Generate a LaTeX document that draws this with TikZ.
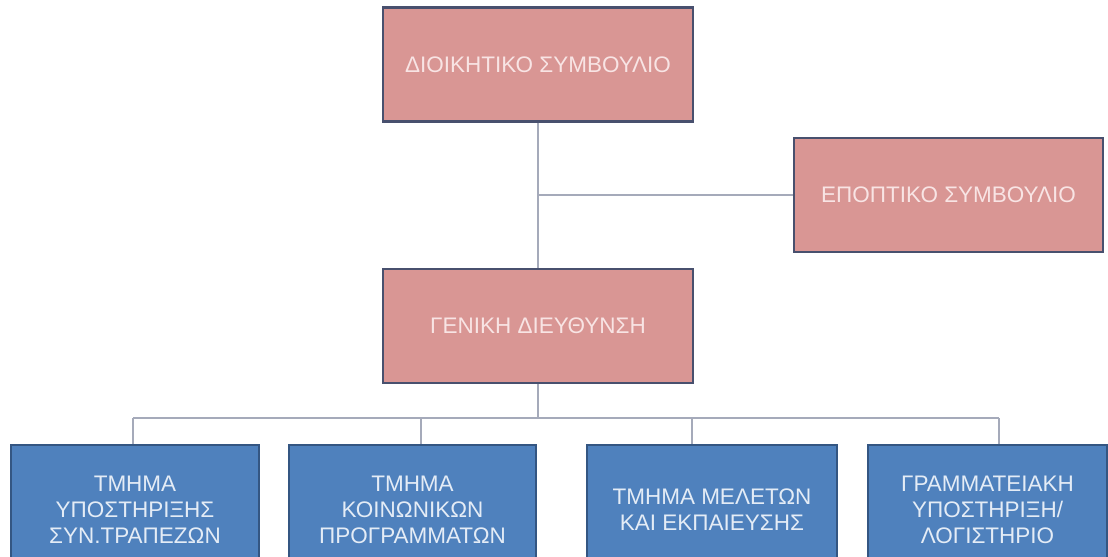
\documentclass[tikz,border=0pt]{standalone}
\usepackage{fontspec}
\setmainfont{Liberation Sans}

\definecolor{boardfill}{RGB}{217,150,148}
\definecolor{boardedge}{RGB}{72,80,110}
\definecolor{boardtext}{RGB}{248,228,228}
\definecolor{deptfill}{RGB}{79,129,189}
\definecolor{deptedge}{RGB}{52,86,130}
\definecolor{depttext}{RGB}{228,236,246}
\definecolor{linkgray}{RGB}{165,170,186}

\tikzset{
	board/.style={draw=boardedge, line width=1.6pt, fill=boardfill, text=boardtext, minimum width=7.75cm, minimum height=2.85cm, align=center, font=\fontsize{16}{18.5}\selectfont},
	dept/.style={draw=deptedge, line width=1.6pt, fill=deptfill, text=depttext, minimum height=3.25cm, align=center, font=\fontsize{16}{18.5}\selectfont},
	link/.style={draw=linkgray, line width=1pt}
}

\begin{document}
\begin{tikzpicture}
	\clip (0,0) rectangle (27.7,13.9);
	%Board of directors
		\node[board] (dsboard) at (13.45,12.2875) {ΔΙΟΙΚΗΤΙΚΟ ΣΥΜΒΟΥΛΙΟ};
	%Supervisory board
		\node[board, minimum width=7.725cm] (supboard) at (23.7125,9.025) {ΕΠΟΠΤΙΚΟ ΣΥΜΒΟΥΛΙΟ};
	%General management
		\node[board] (gendir) at (13.45,5.75) {ΓΕΝΙΚΗ ΔΙΕΥΘΥΝΣΗ};
	%Departments
		\node[dept, minimum width=6.2cm] (dept1) at (3.375,1.15) {ΤΜΗΜΑ\\ΥΠΟΣΤΗΡΙΞΗΣ\\ΣΥΝ.ΤΡΑΠΕΖΩΝ};
		\node[dept, minimum width=6.175cm] (dept2) at (10.3125,1.15) {ΤΜΗΜΑ\\ΚΟΙΝΩΝΙΚΩΝ\\ΠΡΟΓΡΑΜΜΑΤΩΝ};
		\node[dept, minimum width=6.25cm] (dept3) at (17.8,1.15) {ΤΜΗΜΑ ΜΕΛΕΤΩΝ\\ΚΑΙ ΕΚΠΑΙΕΥΣΗΣ};
		\node[dept, minimum width=5.975cm] (dept4) at (24.6875,1.15) {ΓΡΑΜΜΑΤΕΙΑΚΗ\\ΥΠΟΣΤΗΡΙΞΗ/\\ΛΟΓΙΣΤΗΡΙΟ};
	%Board -> general management
		\draw[link] (dsboard.south) -- (gendir.north);
	%Branch to supervisory board
		\draw[link] (dsboard.south |- supboard.west) -- (supboard.west);
	%General management -> bus
		\coordinate (bus) at (13.45,3.45);
		\draw[link] (gendir.south) -- (bus);
	%Bus -> departments
		\coordinate (drop1) at (3.325,3.45);
		\coordinate (drop2) at (10.525,3.45);
		\coordinate (drop3) at (17.3,3.45);
		\coordinate (drop4) at (24.975,3.45);
		\draw[link] (drop1) -- (drop4);
		\draw[link] (drop1) -- (drop1 |- dept1.north);
		\draw[link] (drop2) -- (drop2 |- dept2.north);
		\draw[link] (drop3) -- (drop3 |- dept3.north);
		\draw[link] (drop4) -- (drop4 |- dept4.north);
\end{tikzpicture}
\end{document}
